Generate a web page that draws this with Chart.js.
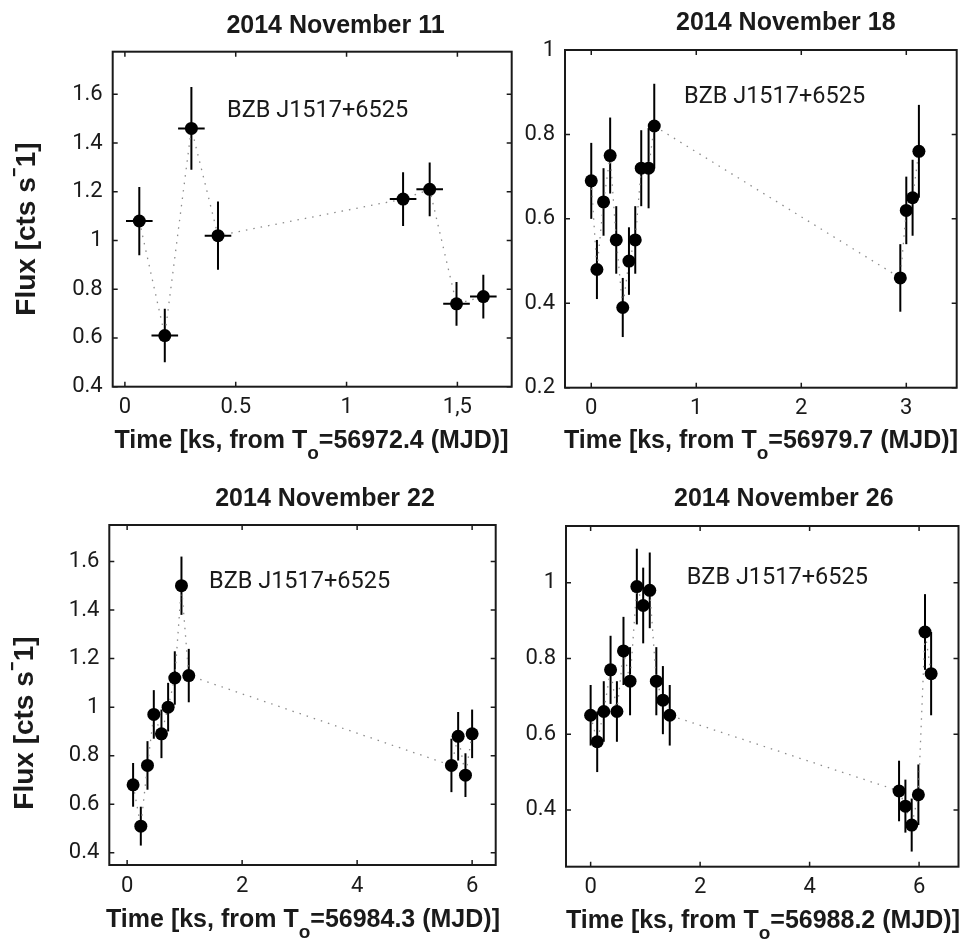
<!DOCTYPE html>
<html>
<head>
<meta charset="utf-8">
<title>BZB J1517+6525 light curves</title>
<script src="https://cdn.jsdelivr.net/npm/chart.js@4.4.1/dist/chart.umd.min.js"></script>
<style>
  body { margin: 0; background: #fff; }
  #wrap { position: relative; width: 965px; height: 942px; }
  .panel { position: absolute; }
</style>
</head>
<body>
<div id="wrap">
  <div class="panel" style="left:0;top:0;width:520px;height:470px"><canvas id="nov11"></canvas></div>
  <div class="panel" style="left:520px;top:0;width:445px;height:470px"><canvas id="nov18"></canvas></div>
  <div class="panel" style="left:0;top:470px;width:520px;height:472px"><canvas id="nov22"></canvas></div>
  <div class="panel" style="left:520px;top:470px;width:445px;height:472px"><canvas id="nov26"></canvas></div>
</div>
<script>
// light curve values (time in ks, flux in cts/s, 1-sigma errors)
const nov11Time = [0.065, 0.18, 0.30, 0.42, 1.255, 1.375, 1.496, 1.617];
const nov11Flux = [1.08, 0.61, 1.46, 1.02, 1.17, 1.21, 0.74, 0.77];
const nov11Err = [0.14, 0.11, 0.17, 0.14, 0.11, 0.11, 0.09, 0.09];
const nov11Bin = 0.06; // half width of the time bins
const nov11XTicks = [0, 0.5, 1, 1.5];
const nov11XLabels = ["0", "0.5", "1", "1,5"];
const nov11YTicks = [0.4, 0.6, 0.8, 1.0, 1.2, 1.4, 1.6];
const nov11YLabels = ["0.4", "0.6", "0.8", "1", "1.2", "1.4", "1.6"];

const nov18Time = [0, 0.054, 0.117, 0.18, 0.238, 0.30, 0.359, 0.419, 0.476, 0.546, 0.60, 2.943, 3.0, 3.06, 3.12];
const nov18Flux = [0.69, 0.48, 0.64, 0.75, 0.55, 0.39, 0.50, 0.55, 0.72, 0.72, 0.82, 0.46, 0.62, 0.65, 0.76];
const nov18Err = [0.09, 0.07, 0.08, 0.09, 0.08, 0.07, 0.08, 0.08, 0.09, 0.095, 0.10, 0.08, 0.08, 0.09, 0.11];
const nov18XTicks = [0, 1, 2, 3];
const nov18XLabels = ["0", "1", "2", "3"];
const nov18YTicks = [0.2, 0.4, 0.6, 0.8, 1.0];
const nov18YLabels = ["0.2", "0.4", "0.6", "0.8", "1"];

const nov22Time = [0.104, 0.238, 0.354, 0.464, 0.597, 0.713, 0.829, 0.945, 1.072, 5.64, 5.757, 5.884, 6.0];
const nov22Flux = [0.68, 0.51, 0.76, 0.97, 0.89, 1.0, 1.12, 1.5, 1.13, 0.76, 0.88, 0.72, 0.89];
const nov22Err = [0.09, 0.08, 0.10, 0.10, 0.10, 0.10, 0.11, 0.12, 0.11, 0.11, 0.10, 0.09, 0.10];
const nov22XTicks = [0, 2, 4, 6];
const nov22XLabels = ["0", "2", "4", "6"];
const nov22YTicks = [0.4, 0.6, 0.8, 1.0, 1.2, 1.4, 1.6];
const nov22YLabels = ["0.4", "0.6", "0.8", "1", "1.2", "1.4", "1.6"];

const nov26Time = [0, 0.12, 0.24, 0.364, 0.48, 0.60, 0.72, 0.844, 0.96, 1.08, 1.2, 1.32, 1.445, 5.634, 5.75, 5.865, 5.987, 6.108, 6.22];
const nov26Flux = [0.65, 0.58, 0.66, 0.77, 0.66, 0.82, 0.74, 0.99, 0.94, 0.98, 0.74, 0.69, 0.65, 0.45, 0.41, 0.36, 0.44, 0.87, 0.76];
const nov26Err = [0.08, 0.08, 0.08, 0.09, 0.08, 0.09, 0.09, 0.10, 0.10, 0.10, 0.09, 0.09, 0.08, 0.08, 0.07, 0.07, 0.08, 0.10, 0.11];
const nov26XTicks = [0, 2, 4, 6];
const nov26XLabels = ["0", "2", "4", "6"];
const nov26YTicks = [0.4, 0.6, 0.8, 1.0];
const nov26YLabels = ["0.4", "0.6", "0.8", "1"];

const SOURCE = "BZB J1517+6525";
const INK = "#1a1a1a";
const BOLD = "'Liberation Sans', Arial, sans-serif";
const PLAIN = "Roboto, 'Liberation Sans', sans-serif";

// draws error bars, the frame with inward ticks and all the panel text
function lightCurvePlugin(p) {
  return {
    id: "lightCurve",
    beforeDatasetsDraw(chart) {
      const { ctx, scales: { x, y } } = chart;
      ctx.save();
      ctx.strokeStyle = "#000";
      ctx.lineWidth = 2;
      p.time.forEach((t, i) => {
        const px = x.getPixelForValue(t);
        ctx.beginPath();
        ctx.moveTo(px, y.getPixelForValue(p.flux[i] - p.err[i]));
        ctx.lineTo(px, y.getPixelForValue(p.flux[i] + p.err[i]));
        if (p.bin) {
          const py = y.getPixelForValue(p.flux[i]);
          ctx.moveTo(x.getPixelForValue(t - p.bin), py);
          ctx.lineTo(x.getPixelForValue(t + p.bin), py);
        }
        ctx.stroke();
      });
      ctx.restore();
    },
    afterDraw(chart) {
      const { ctx, chartArea: a, scales: { x, y } } = chart;
      ctx.save();
      ctx.strokeStyle = INK;
      ctx.lineWidth = 1.5;
      const tl = 5;
      ctx.beginPath();
      x.ticks.forEach(tk => {
        const px = x.getPixelForValue(tk.value);
        ctx.moveTo(px, a.bottom); ctx.lineTo(px, a.bottom - tl);
        ctx.moveTo(px, a.top); ctx.lineTo(px, a.top + tl);
      });
      y.ticks.forEach(tk => {
        const py = y.getPixelForValue(tk.value);
        ctx.moveTo(a.left, py); ctx.lineTo(a.left + tl, py);
        ctx.moveTo(a.right, py); ctx.lineTo(a.right - tl, py);
      });
      ctx.stroke();
      ctx.lineWidth = 2;
      ctx.strokeRect(a.left, a.top, a.right - a.left, a.bottom - a.top);

      ctx.fillStyle = INK;
      ctx.textBaseline = "alphabetic";

      // panel title
      ctx.font = "bold 25px " + BOLD;
      ctx.textAlign = "center";
      ctx.fillText(p.title, p.titleAt[0], p.titleAt[1]);

      // source name
      ctx.font = "23.5px " + PLAIN;
      ctx.textAlign = "left";
      ctx.fillText(SOURCE, p.noteAt[0], p.noteAt[1]);

      // x axis title with subscript o
      const head = "Time [ks, from T";
      const tail = "=" + p.mjd + " (MJD)]";
      ctx.font = "bold 25px " + BOLD;
      const wHead = ctx.measureText(head).width;
      const wTail = ctx.measureText(tail).width;
      ctx.font = "bold 19px " + BOLD;
      const wSub = ctx.measureText("o").width;
      let sx = p.xLabelAt[0] - (wHead + wSub + wTail) / 2;
      const sy = p.xLabelAt[1];
      ctx.font = "bold 25px " + BOLD;
      ctx.fillText(head, sx, sy);
      ctx.font = "bold 19px " + BOLD;
      ctx.fillText("o", sx + wHead, sy + 11);
      ctx.font = "bold 25px " + BOLD;
      ctx.fillText(tail, sx + wHead + wSub, sy);

      // y axis title
      if (p.yLabelAt) {
        ctx.translate(p.yLabelAt[0], p.yLabelAt[1]);
        ctx.rotate(-Math.PI / 2);
        const a1 = "Flux [cts s", a3 = "1]";
        ctx.font = "bold 28px " + BOLD;
        const w1 = ctx.measureText(a1).width, w3 = ctx.measureText(a3).width;
        const w2 = 10;
        let tx = -(w1 + w2 + w3) / 2;
        ctx.fillText(a1, tx, 10);
        ctx.fillRect(tx + w1 + 1, -12, 8, 2.2);
        ctx.fillText(a3, tx + w1 + w2, 10);
      }
      ctx.restore();
    }
  };
}

function makePanel(id, p) {
  const tickFont = { family: PLAIN, size: 22 };
  return new Chart(document.getElementById(id), {
    type: "scatter",
    data: {
      datasets: [{
        data: p.time.map((t, i) => ({ x: t, y: p.flux[i] })),
        showLine: true,
        borderColor: "#8c8c8c",
        borderWidth: 1.3,
        borderDash: [1.5, 6],
        pointRadius: 6.5,
        pointHoverRadius: 6.5,
        pointBackgroundColor: "#000",
        pointBorderWidth: 0
      }]
    },
    options: {
      responsive: true,
      maintainAspectRatio: false,
      animation: false,
      events: [],
      layout: { padding: { left: 0, top: p.area.top, right: p.area.right, bottom: 0 } },
      plugins: { legend: { display: false }, tooltip: { enabled: false } },
      scales: {
        x: {
          type: "linear",
          min: p.xRange[0],
          max: p.xRange[1],
          grid: { display: false, drawTicks: false },
          border: { display: false },
          afterBuildTicks: s => { s.ticks = p.xTicks.map(v => ({ value: v })); },
          afterFit: s => { s.height = p.area.bottom; },
          ticks: {
            autoSkip: false, maxRotation: 0, padding: 8, color: INK, font: tickFont,
            callback: (v, i) => p.xLabels[i]
          }
        },
        y: {
          type: "linear",
          min: p.yRange[0],
          max: p.yRange[1],
          grid: { display: false, drawTicks: false },
          border: { display: false },
          afterBuildTicks: s => { s.ticks = p.yTicks.map(v => ({ value: v })); },
          afterFit: s => { s.width = p.area.left; },
          ticks: {
            autoSkip: false, padding: 10, color: INK, font: tickFont,
            callback: (v, i) => p.yLabels[i]
          }
        }
      }
    },
    plugins: [lightCurvePlugin(p)]
  });
}

makePanel("nov11", {
  time: nov11Time, flux: nov11Flux, err: nov11Err, bin: nov11Bin,
  xTicks: nov11XTicks, xLabels: nov11XLabels, yTicks: nov11YTicks, yLabels: nov11YLabels,
  xRange: [-0.055, 1.745], yRange: [0.4, 1.775],
  area: { left: 112.7, top: 51.7, right: 8.3, bottom: 83.3 },
  title: "2014 November 11", titleAt: [335.5, 33], mjd: "56972.4",
  xLabelAt: [311.5, 448], yLabelAt: [25, 229], noteAt: [227, 117]
});

makePanel("nov18", {
  time: nov18Time, flux: nov18Flux, err: nov18Err,
  xTicks: nov18XTicks, xLabels: nov18XLabels, yTicks: nov18YTicks, yLabels: nov18YLabels,
  xRange: [-0.25, 3.48], yRange: [0.2, 1.0],
  area: { left: 45, top: 50, right: 8.3, bottom: 82.3 },
  title: "2014 November 18", titleAt: [265.8, 30], mjd: "56979.7",
  xLabelAt: [241, 448], noteAt: [164, 103]
});

makePanel("nov22", {
  time: nov22Time, flux: nov22Flux, err: nov22Err,
  xTicks: nov22XTicks, xLabels: nov22XLabels, yTicks: nov22YTicks, yLabels: nov22YLabels,
  xRange: [-0.31, 6.41], yRange: [0.35, 1.75],
  area: { left: 109.3, top: 55, right: 24.3, bottom: 77 },
  title: "2014 November 22", titleAt: [325, 36], mjd: "56984.3",
  xLabelAt: [303, 457], yLabelAt: [23, 253], noteAt: [209, 118]
});

makePanel("nov26", {
  time: nov26Time, flux: nov26Flux, err: nov26Err,
  xTicks: nov26XTicks, xLabels: nov26XLabels, yTicks: nov26YTicks, yLabels: nov26YLabels,
  xRange: [-0.45, 6.72], yRange: [0.25, 1.15],
  area: { left: 46, top: 56, right: 5, bottom: 75.3 },
  title: "2014 November 26", titleAt: [263.8, 36], mjd: "56988.2",
  xLabelAt: [243, 458], noteAt: [166.7, 114]
});
</script>
</body>
</html>
